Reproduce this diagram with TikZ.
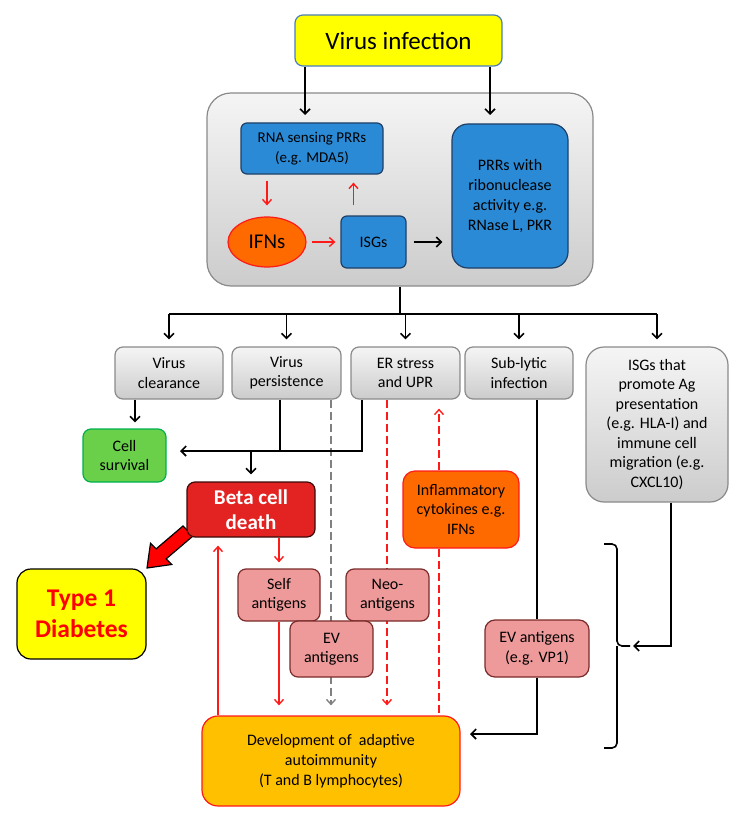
\documentclass[tikz,border=0pt]{standalone}
\usepackage{fontspec}
\setmainfont{Carlito}
\usetikzlibrary{arrows.meta,shapes.geometric,backgrounds,calc}
\definecolor{vyellow}{HTML}{FFFF00}
\definecolor{vborder}{HTML}{4A7EBB}
\definecolor{bfill}{HTML}{2B8AD6}
\definecolor{bborder}{HTML}{1F3F66}
\definecolor{ifnfill}{HTML}{FF6A00}
\definecolor{gborder}{HTML}{8A8A8A}
\definecolor{greenfill}{HTML}{6AD04A}
\definecolor{greenborder}{HTML}{00B050}
\definecolor{betafill}{HTML}{E32222}
\definecolor{betaborder}{HTML}{3A0A0A}
\definecolor{pinkfill}{HTML}{EF9A9A}
\definecolor{pinkborder}{HTML}{7A2A2A}
\definecolor{inflfill}{HTML}{FF6A00}
\definecolor{devfill}{HTML}{FFC000}
\definecolor{rline}{HTML}{FF1A1A}
\tikzset{
  base/.style={inner sep=2pt, align=center, line width=1.2pt},
  txt/.style={font=\fontsize{16}{19.5}\selectfont},
  graybox/.style={base, txt, draw=gborder, rounded corners=8pt, top color=white!96!black, bottom color=white!80!black},
  bluebox/.style={base, txt, draw=bborder, fill=bfill},
  pinkbox/.style={base, txt, draw=pinkborder, fill=pinkfill, rounded corners=8pt},
  blk/.style={line width=1.6pt, black},
  arr/.style={blk, -{Straight Barb[length=5pt,width=10pt]}},
  rarr/.style={line width=1.4pt, rline, -{Straight Barb[length=5pt,width=9pt]}},
  rdash/.style={line width=1.4pt, rline, dash pattern=on 8pt off 4pt},
  gdash/.style={line width=1.4pt, gray, dash pattern=on 8pt off 4pt},
}
\begin{document}
\begin{tikzpicture}[x=1pt,y=-1pt]
\useasboundingbox (0,0) rectangle (746,832);

% container
\node[base, draw=gborder, rounded corners=24pt, top color=white!96!black, bottom color=white!80!black, minimum width=386pt, minimum height=193pt] (cont) at (400,189.5) {};

\node[base, draw=vborder, fill=vyellow, rounded corners=8pt, minimum width=207pt, minimum height=51pt, font=\fontsize{25}{30}\selectfont] (vi) at (398.5,40.5) {Virus infection};

\node[bluebox, rounded corners=6pt, minimum width=142pt, minimum height=51pt, font=\fontsize{15}{20}\selectfont] (rna) at (312,148.5) {RNA sensing PRRs\\(e.g. MDA5)};
\node[bluebox, rounded corners=16pt, minimum width=116pt, minimum height=144pt, font=\fontsize{16}{20}\selectfont] (prr) at (510,196) {PRRs with\\ribonuclease\\activity e.g.\\RNase L, PKR};
\node[base, ellipse, draw=rline, fill=ifnfill, minimum width=78pt, minimum height=50pt, inner sep=0pt, font=\fontsize{21}{25}\selectfont] (ifn) at (267,242) {IFNs};
\node[bluebox, rounded corners=6pt, minimum width=65pt, minimum height=52pt] (isg) at (373.5,242) {ISGs};

\node[graybox, minimum width=108pt, minimum height=52pt] (vc) at (169,373) {Virus\\clearance};
\node[graybox, minimum width=109pt, minimum height=52pt] (vp) at (286.5,373) {Virus\\persistence};
\node[graybox, minimum width=109pt, minimum height=52pt] (er) at (405.5,373) {ER stress\\and UPR};
\node[graybox, minimum width=108pt, minimum height=52pt] (sl) at (519,373) {Sub-lytic\\infection};
\node[graybox, rounded corners=18pt, minimum width=142pt, minimum height=155pt] (isgp) at (657,424.5) {ISGs that\\promote Ag\\presentation\\(e.g. HLA-I) and\\immune cell\\migration (e.g.\\CXCL10)};

\node[base, txt, draw=greenborder, fill=greenfill, rounded corners=8pt, minimum width=83pt, minimum height=53pt] (cs) at (124.5,455.5) {Cell\\survival};

% big red arrow (tail hidden under the beta cell box)
\draw[line width=1.2pt, draw=black, fill=red, line join=miter]
  (193,536) -- (166.1,558.9) -- (171.7,564.5) -- (147,568) -- (150.5,543.3) -- (156.1,548.9) -- (183,526) -- cycle;

\node[base, draw=betaborder, fill=betafill, rounded corners=8pt, minimum width=128pt, minimum height=55pt, text=white, font=\fontsize{21}{25}\bfseries\selectfont] (bcd) at (251,509.5) {Beta cell\\death};
\node[base, draw=black, fill=vyellow, rounded corners=14pt, minimum width=129pt, minimum height=90pt, text=red, font=\fontsize{25.5}{31}\bfseries\selectfont] (t1d) at (81.5,614) {Type 1\\Diabetes};

\node[base, txt, draw=rline, fill=inflfill, rounded corners=12pt, minimum width=116pt, minimum height=77pt] (infl) at (461,509.5) {Inflammatory\\cytokines e.g.\\IFNs};

\node[pinkbox, minimum width=82pt, minimum height=52pt] (self) at (279,595) {Self\\antigens};
\node[pinkbox, minimum width=83pt, minimum height=52pt] (neo) at (387.5,595) {Neo-\\antigens};
\node[pinkbox, minimum width=83pt, minimum height=56pt] (ev) at (331.5,649) {EV\\antigens};
\node[pinkbox, rounded corners=10pt, minimum width=104pt, minimum height=57pt] (evvp) at (537,648.5) {EV antigens\\(e.g. VP1)};

\node[base, draw=rline, fill=devfill, rounded corners=16pt, minimum width=258pt, minimum height=90pt, font=\fontsize{16}{20}\selectfont] (dev) at (331,761) {Development of~ adaptive\\autoimmunity\\(T and B lymphocytes)};

% coordinates
\coordinate (a1) at (305,115);
\coordinate (a2) at (490,115);
\coordinate (hl) at (169,314);
\coordinate (jr) at (362,451);
\coordinate (jl) at (180,451);
\coordinate (devin) at (470,734);
\coordinate (bt) at (633,646);

% top arrows
\draw[arr] (vi.south -| a1) -- (a1);
\draw[arr] (vi.south -| a2) -- (a2);
\draw[rarr, shorten <=6pt, shorten >=11pt] (rna.south -| ifn.center) -- (ifn.north);
\draw[rarr, shorten <=10pt, shorten >=8pt] ([xshift=-20pt]isg.north) -- ([xshift=-20pt]isg.north |- rna.south);
\draw[rarr, shorten <=5pt, shorten >=5pt] (ifn.east) -- (isg.west);
\draw[arr, shorten <=7pt, shorten >=9pt] (isg.east) -- (isg.east -| prr.west);

% distribution
\draw[blk] (cont.south) -- (cont.south |- hl);
\draw[blk] (vc.north |- hl) -- (isgp.north |- hl);
\foreach \n in {vc,vp,er,sl,isgp}{
  \draw[arr, shorten >=7pt] (\n.north |- hl) -- (\n.north);
}

% survival / death
\draw[arr, shorten >=6pt] ([xshift=-34pt]vc.south) -- ([xshift=-34pt]vc.south |- cs.north);
\draw[blk] ([xshift=-6.5pt]vp.south) -- ([xshift=-6.5pt]vp.south |- jr);
\draw[arr] ([xshift=-43.5pt]er.south) |- (jl);
\draw[arr, shorten >=7pt] (bcd.north |- jr) -- (bcd.north);

% lines passing behind boxes
\begin{pgfonlayer}{background}
\draw[gdash, -{Straight Barb[length=5pt,width=9pt]}, shorten >=10pt] ([xshift=44.5pt]vp.south) -- ([xshift=44.5pt]vp.south |- dev.north);
\draw[rdash, -{Straight Barb[length=5pt,width=9pt]}, shorten >=10pt] ([xshift=-18.5pt]er.south) -- ([xshift=-18.5pt]er.south |- dev.north);
\end{pgfonlayer}
\draw[rdash, -{Straight Barb[length=5pt,width=9pt]}, shorten >=9pt] ([xshift=-22pt]infl.north) -- ([xshift=-22pt]infl.north |- er.south);
\draw[rdash] ([xshift=-22pt]infl.south) -- ([xshift=-22pt]infl.south |- dev.north);

\draw[rarr, shorten >=6pt] (self.north |- bcd.south) -- (self.north);
\draw[rarr, shorten >=10pt] (self.south) -- (self.south |- dev.north);
\draw[rarr, shorten >=8pt] ([xshift=-113pt]dev.north) -- ([xshift=-113pt]dev.north |- bcd.south);

% sub-lytic
\draw[blk] (evvp.north |- sl.south) -- (evvp.north);
\draw[arr] (evvp.south) |- (devin);

% ISGs to brace
\draw[arr] ([xshift=14pt]isgp.south) |- (bt);
\draw[blk, rounded corners=5pt] (604,544) -| (617,646) -- (630,646);
\draw[blk, rounded corners=5pt] (604,748) -| (617,646);
\end{tikzpicture}
\end{document}
